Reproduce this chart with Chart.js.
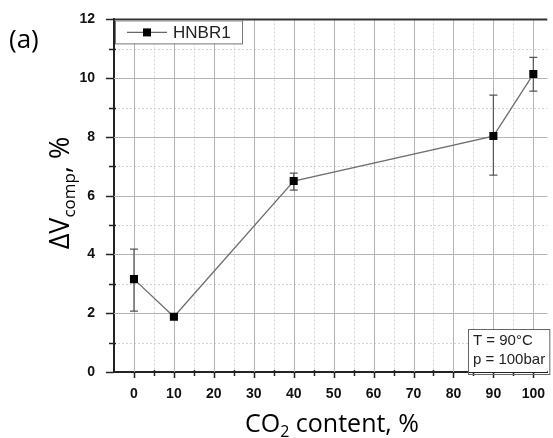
<!DOCTYPE html>
<html>
<head>
<meta charset="utf-8">
<script src="https://cdn.jsdelivr.net/npm/chart.js@4/dist/chart.umd.min.js"></script>
<style>
html,body{margin:0;padding:0;background:#fff;overflow:hidden;}
#wrap{width:553px;height:438px;position:relative;}
</style>
</head>
<body>
<div id="wrap"><canvas id="c" width="553" height="438"></canvas></div>
<script>
// ---- data ----
const seriesName = 'HNBR1';
const co2Content = [0, 10, 40, 90, 100];
const deltaV = [3.16, 1.88, 6.5, 8.03, 10.14];
const errLow = [2.07, 1.83, 6.19, 6.70, 9.56];
const errHigh = [4.18, 1.93, 6.77, 9.42, 10.71];
const xTickValues = [0, 10, 20, 30, 40, 50, 60, 70, 80, 90, 100];
const xMinorValues = [-5, 5, 15, 25, 35, 45, 55, 65, 75, 85, 95];
const yTickValues = [0, 2, 4, 6, 8, 10, 12];
const yMinorValues = [1, 3, 5, 7, 9, 11];
const annotationLines = ['T = 90°C', 'p = 100bar'];
const panelLabel = '(a)';

const TICK_FONT = 'Liberation Sans, Arial, sans-serif';
const TITLE_FONT = '"Open Sans", sans-serif';

const custom = {
  id: 'custom',
  beforeDatasetsDraw(chart) {
    const {ctx, chartArea: a, scales: {x, y}} = chart;
    ctx.save();
    // minor dotted grid
    ctx.lineWidth = 1;
    ctx.strokeStyle = '#d4d4d4';
    ctx.setLineDash([2, 2]);
    xMinorValues.forEach(v => {
      const px = Math.round(x.getPixelForValue(v)) + 0.5;
      if (px <= a.left + 1) return;
      ctx.beginPath(); ctx.moveTo(px, a.top); ctx.lineTo(px, a.bottom); ctx.stroke();
    });
    yMinorValues.forEach(v => {
      const py = Math.round(y.getPixelForValue(v)) + 0.5;
      ctx.beginPath(); ctx.moveTo(a.left, py); ctx.lineTo(a.right, py); ctx.stroke();
    });
    // major grid
    ctx.setLineDash([]);
    ctx.strokeStyle = '#b4b4b4';
    xTickValues.forEach(v => {
      const px = Math.round(x.getPixelForValue(v)) + 0.5;
      ctx.beginPath(); ctx.moveTo(px, a.top); ctx.lineTo(px, a.bottom); ctx.stroke();
    });
    yTickValues.forEach(v => {
      if (v === 0 || v === 12) return;
      const py = Math.round(y.getPixelForValue(v)) + 0.5;
      ctx.beginPath(); ctx.moveTo(a.left, py); ctx.lineTo(a.right, py); ctx.stroke();
    });
    // error bars
    ctx.strokeStyle = '#555';
    ctx.lineWidth = 1.2;
    co2Content.forEach((cx, i) => {
      const px = x.getPixelForValue(cx);
      const pl = y.getPixelForValue(errLow[i]);
      const ph = y.getPixelForValue(errHigh[i]);
      ctx.beginPath();
      ctx.moveTo(px, pl); ctx.lineTo(px, ph);
      ctx.moveTo(px - 4, pl); ctx.lineTo(px + 4, pl);
      ctx.moveTo(px - 4, ph); ctx.lineTo(px + 4, ph);
      ctx.stroke();
    });
    ctx.restore();
  },
  afterDraw(chart) {
    const {ctx, chartArea: a, scales: {x, y}} = chart;
    ctx.save();
    // top frame
    ctx.strokeStyle = '#333';
    ctx.lineWidth = 2;
    ctx.beginPath(); ctx.moveTo(a.left - 1, a.top); ctx.lineTo(a.right, a.top); ctx.stroke();
    // tick marks
    ctx.lineWidth = 1.5;
    ctx.strokeStyle = '#222';
    yTickValues.forEach(v => {
      const py = Math.round(y.getPixelForValue(v)) + 0.5;
      ctx.beginPath(); ctx.moveTo(a.left - 8, py); ctx.lineTo(a.left, py); ctx.stroke();
    });
    yMinorValues.forEach(v => {
      const py = Math.round(y.getPixelForValue(v)) + 0.5;
      ctx.beginPath(); ctx.moveTo(a.left - 5, py); ctx.lineTo(a.left + 2, py); ctx.stroke();
    });
    xTickValues.forEach(v => {
      const px = Math.round(x.getPixelForValue(v)) + 0.5;
      ctx.beginPath(); ctx.moveTo(px, a.bottom); ctx.lineTo(px, a.bottom + 6); ctx.stroke();
    });
    xMinorValues.forEach(v => {
      const px = Math.round(x.getPixelForValue(v)) + 0.5;
      if (px <= a.left + 1) return;
      ctx.beginPath(); ctx.moveTo(px, a.bottom - 2); ctx.lineTo(px, a.bottom + 4); ctx.stroke();
    });

    // legend box
    const lx = a.left + 1, ly = a.top + 1, lw = 127, lh = 23;
    ctx.fillStyle = '#fff';
    ctx.fillRect(lx, ly, lw, lh);
    ctx.strokeStyle = '#777';
    ctx.lineWidth = 1;
    ctx.strokeRect(lx + 0.5, ly + 0.5, lw, lh);
    const my = ly + lh / 2 + 0.5;
    ctx.strokeStyle = '#666';
    ctx.lineWidth = 1.2;
    ctx.beginPath(); ctx.moveTo(lx + 12, my); ctx.lineTo(lx + 52, my); ctx.stroke();
    ctx.fillStyle = '#000';
    ctx.fillRect(lx + 28, my - 4, 8, 8);
    ctx.fillStyle = '#222';
    ctx.font = '17px ' + TICK_FONT;
    ctx.textBaseline = 'middle';
    ctx.textAlign = 'left';
    ctx.fillText(seriesName, lx + 58, my + 1);

    // annotation box
    const bx = 468, by = a.bottom - 43;
    ctx.fillStyle = '#fff';
    ctx.fillRect(bx, by, a.right - bx, 43);
    ctx.strokeStyle = '#666';
    ctx.lineWidth = 1;
    ctx.strokeRect(bx + 0.5, by + 0.5, a.right - bx + 2, 45);
    ctx.fillStyle = '#222';
    ctx.font = '15px ' + TICK_FONT;
    ctx.fillText(annotationLines[0], bx + 5, by + 12);
    ctx.fillText(annotationLines[1], bx + 5, by + 31);

    // y title
    ctx.save();
    ctx.translate(69, 193);
    ctx.rotate(-Math.PI / 2);
    ctx.fillStyle = '#000';
    ctx.textBaseline = 'alphabetic';
    const p1 = '\u0394V', p2 = 'comp', p3 = ', %';
    ctx.font = '27px ' + TITLE_FONT; const w1 = ctx.measureText(p1).width;
    ctx.font = '17px ' + TITLE_FONT; const w2 = ctx.measureText(p2).width;
    ctx.font = '27px ' + TITLE_FONT; const w3 = ctx.measureText(p3).width;
    let sx = -(w1 + w2 + w3) / 2;
    ctx.font = '27px ' + TITLE_FONT; ctx.fillText(p1, sx, 0); sx += w1;
    ctx.font = '17px ' + TITLE_FONT; ctx.fillText(p2, sx, 6); sx += w2;
    ctx.font = '27px ' + TITLE_FONT; ctx.fillText(p3, sx, 0);
    ctx.restore();

    // x title
    ctx.fillStyle = '#000';
    ctx.textBaseline = 'alphabetic';
    const q1 = 'CO', q2 = '2', q3 = ' content, %';
    ctx.font = '25px ' + TITLE_FONT; const v1 = ctx.measureText(q1).width;
    ctx.font = '16px ' + TITLE_FONT; const v2 = ctx.measureText(q2).width;
    ctx.font = '25px ' + TITLE_FONT; const v3 = ctx.measureText(q3).width;
    let tx = 332 - (v1 + v2 + v3) / 2;
    const tb = 432;
    ctx.font = '25px ' + TITLE_FONT; ctx.fillText(q1, tx, tb); tx += v1;
    ctx.font = '16px ' + TITLE_FONT; ctx.fillText(q2, tx, tb + 5); tx += v2;
    ctx.font = '25px ' + TITLE_FONT; ctx.fillText(q3, tx, tb);

    // panel label
    ctx.font = '26px ' + TITLE_FONT;
    ctx.textAlign = 'left';
    ctx.fillText(panelLabel, 9, 48);
    ctx.restore();
  }
};

new Chart(document.getElementById('c'), {
  type: 'line',
  data: {
    datasets: [{
      label: seriesName,
      data: co2Content.map((v, i) => ({x: v, y: deltaV[i]})),
      borderColor: '#6e6e6e',
      borderWidth: 1.3,
      pointStyle: 'rect',
      pointRadius: 5.7,
      pointHoverRadius: 5.7,
      pointBackgroundColor: '#000',
      pointBorderColor: '#000',
      pointBorderWidth: 0,
      tension: 0,
      fill: false
    }]
  },
  options: {
    responsive: false,
    animation: false,
    devicePixelRatio: 1,
    layout: {padding: {top: 19, right: 0, left: 0, bottom: 0}},
    plugins: {legend: {display: false}, tooltip: {enabled: false}},
    scales: {
      x: {
        type: 'linear', min: -5, max: 103.5,
        afterBuildTicks: s => { s.ticks = xTickValues.map(v => ({value: v})); },
        afterFit: s => { s.height = 66; },
        grid: {display: false},
        border: {display: true, color: '#222', width: 2},
        ticks: {font: {family: TICK_FONT, size: 14, weight: 'bold'}, color: '#111', padding: 6, maxRotation: 0, autoSkip: false,
          callback: v => String(v)}
      },
      y: {
        min: 0, max: 12,
        afterBuildTicks: s => { s.ticks = yTickValues.map(v => ({value: v})); },
        afterFit: s => { s.width = 114; },
        grid: {display: false},
        border: {display: true, color: '#222', width: 2},
        ticks: {font: {family: TICK_FONT, size: 14, weight: 'bold'}, color: '#111', padding: 11,
          callback: v => String(v)}
      }
    }
  },
  plugins: [custom]
});
</script>
</body>
</html>
